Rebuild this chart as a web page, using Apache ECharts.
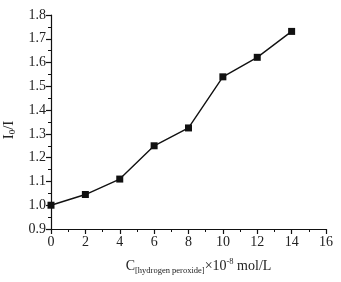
<!DOCTYPE html>
<html>
<head>
<meta charset="utf-8">
<script src="https://cdn.jsdelivr.net/npm/echarts@6/dist/echarts.min.js"></script>
<style>
html,body{margin:0;padding:0;background:#fff;}
#chart{width:341px;height:282px;}
</style>
</head>
<body>
<div id="chart"></div>
<script>
// concentration (x 10^-8 mol/L) and I0/I
var conc = [0, 2, 4, 6, 8, 10, 12, 14];
var ratio = [1.00, 1.045, 1.11, 1.25, 1.325, 1.54, 1.622, 1.731];

var serif = 'Liberation Serif';
var chart = echarts.init(document.getElementById('chart'));
var pts = [];
for (var i = 0; i < conc.length; i++) {
  pts.push([conc[i], ratio[i]]);
}

option = {
  animation: false,
  backgroundColor: '#fff',
  grid: { left: 51, right: 15, top: 15, bottom: 53, containLabel: false, outerBoundsMode: 'none' },
  xAxis: {
    type: 'value',
    min: 0, max: 16, interval: 2,
    name: '{m|C}{s|[hydrogen peroxide]}{m|×10}{p|-8}{m| mol/L}',
    nameLocation: 'middle',
    nameGap: 28,
    nameTextStyle: {
      padding: [0, 0, 0, 20],
      rich: {
        m: { fontFamily: serif, fontSize: 14, color: '#222' },
        s: { fontFamily: serif, fontSize: 8.5, color: '#222', padding: [9, 0, 0, 0] },
        p: { fontFamily: serif, fontSize: 8.5, color: '#222', padding: [0, 0, 9, 0] }
      }
    },
    axisLine: { lineStyle: { color: '#111', width: 1.2 } },
    axisTick: { length: 5, lineStyle: { color: '#111', width: 1.2 } },
    minorTick: { show: true, splitNumber: 2, length: 3, lineStyle: { color: '#111', width: 1 } },
    axisLabel: { fontFamily: serif, fontSize: 14, color: '#222', margin: 6 },
    splitLine: { show: false }
  },
  yAxis: {
    type: 'value',
    min: 0.9, max: 1.8, interval: 0.1,
    name: '{m|I}{s|0}{m|/I}',
    nameLocation: 'middle',
    nameGap: 33,
    nameTextStyle: {
      padding: [0, 16, 0, 0],
      rich: {
        m: { fontFamily: serif, fontSize: 15, color: '#222' },
        s: { fontFamily: serif, fontSize: 9, color: '#222', padding: [9, 0, 0, 0] }
      }
    },
    axisLine: { show: true, lineStyle: { color: '#111', width: 1.2 } },
    axisTick: { show: true, length: 5, lineStyle: { color: '#111', width: 1.2 } },
    minorTick: { show: true, splitNumber: 2, length: 3, lineStyle: { color: '#111', width: 1 } },
    axisLabel: {
      fontFamily: serif, fontSize: 14, color: '#222', margin: 5,
      formatter: function (v) { return v.toFixed(1); }
    },
    splitLine: { show: false }
  },
  series: [{
    type: 'line',
    data: pts,
    symbol: 'rect',
    symbolSize: 7,
    lineStyle: { color: '#111', width: 1.4 },
    itemStyle: { color: '#111' }
  }]
};
chart.setOption(option, true);
</script>
</body>
</html>
